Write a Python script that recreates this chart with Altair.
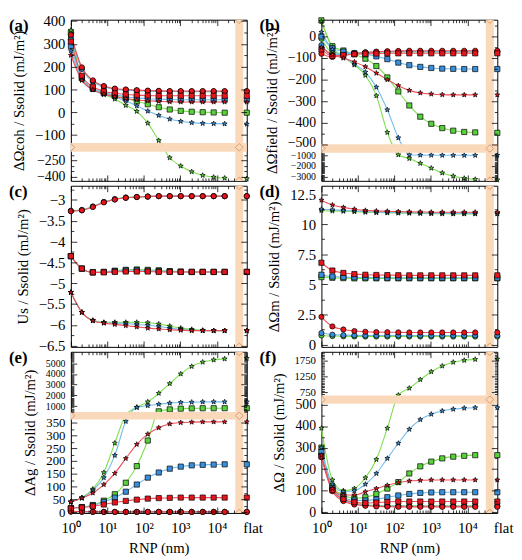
import math
import json
import altair as alt
import pandas as pd

# ---------------- data ----------------
X_NP = [1, 2, 4, 8, 16, 32, 64, 128, 256, 512, 1024, 2048, 4096, 8192, 16384]
X_FLAT = 66000
X_BAND = [32000, 53000]
X_LABEL_VALUES = [1, 10, 100, 1000, 10000, X_FLAT]
X_LABEL_TEXT = ["10⁰", "10¹", "10²", "10³", "10⁴", "flat"]
X_MAJOR = [1, 10, 100, 1000, 10000]
X_MINOR = [m * 10 ** k for k in range(4) for m in range(2, 10)] + [20000, 30000]

# (a) cohesion
A_CIRCLE_RED = [340, 197, 140, 115, 104, 100, 97, 95, 94, 93, 93, 93, 93, 93, 93, 93]
A_CIRCLE_BLUE = [320, 190, 135, 112, 101, 97, 94, 93, 92, 91, 91, 91, 91, 91, 91, 91]
A_CIRCLE_GREEN = [330, 192, 137, 113, 102, 98, 95, 93, 92, 91, 90, 90, 90, 90, 90, 90]
A_SQUARE_RED = [310, 160, 112, 92, 83, 78, 75, 73, 72, 72, 72, 72, 72, 72, 72, 72]
A_SQUARE_BLUE = [290, 150, 105, 86, 76, 68, 63, 59, 57, 56, 55, 55, 55, 55, 55, 55]
A_SQUARE_GREEN = [350, 150, 103, 84, 72, 60, 48, 35, 22, 12, 6, 2, 0, -1, -2, -2]
A_STAR_RED = [250, 140, 98, 80, 68, 60, 54, 50, 48, 46, 45, 45, 45, 45, 45, 45]
A_STAR_BLUE = [270, 142, 100, 80, 66, 50, 28, 5, -14, -30, -40, -46, -49, -50, -51, -52]
A_STAR_GREEN = [360, 145, 100, 78, 58, 30, 4, -48, -124, -225, -300, -352, -385, -402, -410, -415]

# (b) field
B_CIRCLE_RED = [-80, -95, -88, -80, -74, -70, -68, -67, -66, -66, -66, -66, -66, -66, -66, -66]
B_CIRCLE_BLUE = [-40, -85, -82, -78, -74, -72, -71, -70, -70, -70, -70, -70, -70, -70, -70, -70]
B_CIRCLE_GREEN = [-10, -75, -78, -76, -74, -73, -72, -72, -72, -72, -72, -72, -72, -72, -72, -72]
B_SQUARE_RED = [-60, -90, -86, -82, -80, -79, -78, -78, -78, -78, -78, -78, -78, -78, -78, -78]
B_SQUARE_BLUE = [0, -55, -70, -78, -83, -92, -105, -121, -133, -141, -146, -149, -150, -151, -151, -151]
B_SQUARE_GREEN = [75, -45, -65, -82, -103, -137, -190, -255, -320, -372, -405, -425, -437, -443, -445, -447]
B_STAR_RED = [-50, -85, -100, -118, -140, -170, -200, -228, -250, -262, -267, -270, -271, -271, -271, -271]
B_STAR_BLUE = [20, -60, -95, -128, -165, -235, -340, -470, -950, -980, -990, -995, -998, -1000, -1000, -1000]
B_STAR_GREEN = [70, -50, -95, -132, -180, -275, -445, -950, -1300, -1750, -2200, -2650, -2950, -3150, -3250, -3300]

# (c) solid energy
C_CIRCLE_RED = [-3.27, -3.25, -3.17, -3.06, -2.99, -2.95, -2.93, -2.92, -2.91, -2.91, -2.91, -2.91, -2.91, -2.91, -2.91, -2.91]
C_CIRCLE_BLUE = [-3.27, -3.25, -3.16, -3.05, -2.99, -2.95, -2.93, -2.92, -2.91, -2.91, -2.91, -2.91, -2.91, -2.91, -2.91, -2.91]
C_CIRCLE_GREEN = [-3.26, -3.24, -3.16, -3.05, -2.98, -2.94, -2.93, -2.92, -2.91, -2.91, -2.91, -2.91, -2.91, -2.91, -2.91, -2.91]
C_SQUARE_RED = [-4.35, -4.65, -4.74, -4.74, -4.73, -4.72, -4.72, -4.72, -4.73, -4.73, -4.73, -4.73, -4.73, -4.73, -4.73, -4.73]
C_SQUARE_BLUE = [-4.35, -4.65, -4.74, -4.73, -4.71, -4.69, -4.69, -4.70, -4.71, -4.72, -4.73, -4.73, -4.73, -4.73, -4.73, -4.73]
C_SQUARE_GREEN = [-4.35, -4.65, -4.74, -4.73, -4.70, -4.68, -4.67, -4.68, -4.69, -4.71, -4.72, -4.73, -4.73, -4.73, -4.73, -4.73]
C_STAR_RED = [-5.22, -5.70, -5.90, -5.96, -5.99, -6.02, -6.05, -6.08, -6.10, -6.12, -6.13, -6.14, -6.14, -6.14, -6.14, -6.14]
C_STAR_BLUE = [-5.22, -5.70, -5.90, -5.95, -5.96, -5.97, -5.99, -6.01, -6.04, -6.08, -6.11, -6.13, -6.14, -6.14, -6.14, -6.14]
C_STAR_GREEN = [-5.22, -5.70, -5.89, -5.94, -5.94, -5.94, -5.94, -5.95, -5.98, -6.03, -6.08, -6.11, -6.13, -6.14, -6.14, -6.14]

# (d) medium
D_CIRCLE_RED = [2.3, 1.5, 1.25, 1.12, 1.06, 1.03, 1.02, 1.01, 1.0, 1.0, 1.0, 1.0, 1.0, 1.0, 1.0, 1.0]
D_CIRCLE_BLUE = [0.95, 0.82, 0.78, 0.76, 0.75, 0.75, 0.75, 0.75, 0.75, 0.75, 0.75, 0.75, 0.75, 0.75, 0.75, 0.75]
D_CIRCLE_GREEN = [0.75, 0.70, 0.68, 0.67, 0.66, 0.66, 0.66, 0.66, 0.66, 0.66, 0.66, 0.66, 0.66, 0.66, 0.66, 0.66]
D_SQUARE_RED = [6.8, 6.15, 5.95, 5.85, 5.8, 5.78, 5.77, 5.76, 5.75, 5.75, 5.75, 5.75, 5.75, 5.75, 5.75, 5.75]
D_SQUARE_BLUE = [5.8, 5.65, 5.6, 5.58, 5.57, 5.56, 5.55, 5.55, 5.55, 5.55, 5.55, 5.55, 5.55, 5.55, 5.55, 5.55]
D_SQUARE_GREEN = [5.6, 5.55, 5.52, 5.5, 5.5, 5.5, 5.5, 5.5, 5.5, 5.5, 5.5, 5.5, 5.5, 5.5, 5.5, 5.5]
D_STAR_RED = [12.0, 11.6, 11.4, 11.25, 11.15, 11.1, 11.08, 11.05, 11.03, 11.02, 11.0, 11.0, 11.0, 11.0, 11.0, 11.0]
D_STAR_BLUE = [11.25, 11.2, 11.15, 11.1, 11.05, 11.0, 10.98, 10.96, 10.95, 10.93, 10.92, 10.91, 10.9, 10.9, 10.9, 10.9]
D_STAR_GREEN = [11.15, 11.1, 11.08, 11.05, 11.0, 10.97, 10.95, 10.93, 10.92, 10.9, 10.88, 10.87, 10.86, 10.86, 10.86, 10.86]

# (e) grafting
E_CIRCLE_RED = [3, 2, 1.5, 1, 1, 1, 1, 1, 1, 1, 1, 1, 1, 1, 1, 1]
E_CIRCLE_BLUE = [2.5, 1.8, 1.3, 1, 1, 1, 1, 1, 1, 1, 1, 1, 1, 1, 1, 1]
E_CIRCLE_GREEN = [2.2, 1.6, 1.2, 1, 1, 1, 1, 1, 1, 1, 1, 1, 1, 1, 1, 1]
E_SQUARE_RED = [15, 18, 23, 30, 38, 44, 49, 53, 55, 56, 57, 57, 57, 57, 57, 57]
E_SQUARE_BLUE = [15, 19, 26, 40, 57, 80, 108, 135, 155, 170, 178, 183, 185, 186, 187, 187]
E_SQUARE_GREEN = [15, 20, 28, 45, 70, 115, 180, 280, 520, 700, 770, 795, 805, 810, 812, 812]
E_STAR_RED = [40, 55, 75, 108, 152, 210, 265, 305, 330, 345, 350, 352, 353, 353, 353, 353]
E_STAR_BLUE = [40, 55, 85, 135, 222, 355, 880, 1050, 1180, 1280, 1340, 1370, 1390, 1400, 1400, 1400]
E_STAR_GREEN = [40, 57, 90, 155, 270, 420, 900, 1400, 2200, 3100, 4000, 4700, 5100, 5300, 5400, 5450]

# (f) total
F_CIRCLE_RED = [255, 98, 52, 36, 30, 27, 26, 25, 25, 25, 25, 25, 25, 25, 25, 25]
F_CIRCLE_BLUE = [265, 103, 57, 40, 33, 30, 29, 28, 28, 28, 28, 28, 28, 28, 28, 28]
F_CIRCLE_GREEN = [275, 108, 60, 42, 35, 32, 30, 30, 30, 30, 30, 30, 30, 30, 30, 30]
F_SQUARE_RED = [260, 103, 62, 47, 43, 45, 48, 50, 50, 50, 50, 50, 50, 50, 50, 50]
F_SQUARE_BLUE = [280, 112, 70, 55, 55, 60, 70, 78, 85, 90, 92, 93, 93, 93, 93, 93]
F_SQUARE_GREEN = [300, 120, 80, 65, 70, 85, 110, 140, 180, 213, 235, 250, 258, 262, 265, 265]
F_STAR_RED = [265, 110, 80, 80, 95, 110, 125, 138, 145, 148, 150, 150, 150, 150, 150, 150]
F_STAR_BLUE = [300, 130, 95, 100, 130, 180, 250, 320, 385, 430, 455, 470, 478, 483, 485, 485]
F_STAR_GREEN = [390, 150, 100, 110, 160, 245, 390, 660, 880, 1150, 1400, 1580, 1700, 1760, 1790, 1800]

# ---------------- style ----------------
FONT = "Liberation Serif, Times New Roman, serif"
W, H = 179, 164
REF_H = 166.0
BAND = "#FAD8BA"
BAND_EDGE = "#D99C6C"
COLOR_ORDER = ["green", "blue", "red"]
LINE_COLORS = ["#7EE04E", "#72BDEB", "#F04F5A"]
FILL_COLORS = ["#58D23A", "#3A8FDC", "#E8141C"]
MARKERS = ["circle", "square", "star"]

pts = []
for i in range(10):
    r = 1.0 if i % 2 == 0 else 0.42
    a = math.radians(-90 + 36 * i)
    pts.append(f"{r * math.cos(a):.3f},{r * math.sin(a):.3f}")
STAR = "M" + "L".join(pts) + "Z"


def series_list(prefix):
    g = globals()
    out = []
    for c in COLOR_ORDER:
        for m in MARKERS:
            out.append((m, c, g[f"{prefix}_{m.upper()}_{c.upper()}"]))
    return out


def build_df(prefix):
    rows = []
    for m, c, vals in series_list(prefix):
        for i, v in enumerate(vals):
            flat = i == len(X_NP)
            rows.append(dict(x=X_FLAT if flat else X_NP[i], v=v, marker=m, color=c,
                             sid=f"{m}-{c}", flat=flat, z=COLOR_ORDER.index(c)))
    return pd.DataFrame(rows)


def tick_size(major, big=6, small=3):
    return {"condition": {"test": f"indexof({json.dumps(major)}, datum.value) >= 0", "value": big},
            "value": small}


def inner_axis(orient, offset, values, major):
    return alt.Axis(orient=orient, offset=offset, values=values, labels=False, domain=False,
                    grid=False, title=None, ticks=True, tickColor="black", tickWidth=0.8,
                    tickSize=tick_size(major), zindex=1)


def panel(letter, prefix, ydom, yref, major, minor, labels, small_test, small_size, big_size,
          title, hband, bottom, shift_test="false", shift=0):
    df = build_df(prefix)
    yr = [r * H / REF_H for r in yref]
    ys = alt.Scale(domain=ydom, range=yr, nice=False, zero=False)
    xs = alt.Scale(type="log", domain=[1, X_FLAT], nice=False)
    yticks = sorted(set(major + minor))
    xticks = sorted(set(X_MAJOR + X_MINOR))

    ylab = alt.Axis(orient="left", values=labels, labelExpr="format(datum.value, '~g')",
                    ticks=False, domain=False,
                    grid=False, labelFont=FONT, labelColor="black", labelPadding=6,
                    labelOverlap=False,
                    labelOffset={"condition": {"test": shift_test, "value": shift}, "value": 0},
                    labelFontSize={"condition": {"test": small_test, "value": small_size}, "value": big_size},
                    title=title, titleFont=FONT, titleFontSize=15, titleFontWeight="normal",
                    titleColor="black", titlePadding=8)
    if bottom:
        expr = " : ".join(f"datum.value == {v} ? '{t}'" for v, t in zip(X_LABEL_VALUES, X_LABEL_TEXT)) + " : ''"
        xlab = alt.Axis(orient="bottom", values=X_LABEL_VALUES, labelExpr=expr, ticks=False,
                        domain=False, grid=False, labelFlush=False, labelOverlap=False,
                        labelFont=FONT, labelFontSize=15, labelColor="black", labelPadding=8,
                        labelOffset={"condition": {"test": f"datum.value >= {X_FLAT}", "value": 6}, "value": 0},
                        title="RNP (nm)", titleFont=FONT, titleFontSize=15,
                        titleFontWeight="normal", titleColor="black", titlePadding=5)
    else:
        xlab = None

    stroke = alt.Stroke("color:N", scale=alt.Scale(domain=COLOR_ORDER, range=LINE_COLORS), legend=None)
    fill = alt.Fill("color:N", scale=alt.Scale(domain=COLOR_ORDER, range=FILL_COLORS), legend=None)
    shape = alt.Shape("marker:N", scale=alt.Scale(domain=MARKERS, range=["circle", "square", STAR]), legend=None)
    size = alt.Size("marker:N", scale=alt.Scale(domain=MARKERS, range=[28, 28, 72]), legend=None)

    base = alt.Chart(df)
    lines = base.transform_filter("!datum.flat").mark_line(strokeWidth=1.1, interpolate="monotone").encode(
        x=alt.X("x:Q", scale=xs, axis=xlab),
        y=alt.Y("v:Q", scale=ys, axis=ylab),
        stroke=stroke, detail="sid:N", order="x:Q")
    points = base.mark_point(filled=True, stroke="black", strokeWidth=0.7, opacity=1).encode(
        x=alt.X("x:Q", scale=xs, axis=inner_axis("top", -H, xticks, X_MAJOR)),
        y=alt.Y("v:Q", scale=ys, axis=inner_axis("right", -W, yticks, major)),
        fill=fill, shape=shape, size=size, order=alt.Order("z:Q"))

    vb = pd.DataFrame({"x1": [X_BAND[0]], "x2": [X_BAND[1]], "y1": [ydom[0]], "y2": [ydom[-1]]})
    vband = alt.Chart(vb).mark_rect(color=BAND).encode(
        x=alt.X("x1:Q", scale=xs, axis=inner_axis("bottom", -H, xticks, X_MAJOR)), x2="x2:Q",
        y=alt.Y("y1:Q", scale=ys, axis=inner_axis("left", -W, yticks, major)), y2="y2:Q")

    xc = math.sqrt(X_BAND[0] * X_BAND[1])
    dx = [xc, xc]
    dy = [ydom[0], ydom[-1]]
    layers = [lines, points, vband]
    if hband:
        hb = pd.DataFrame({"x1": [1], "x2": [X_FLAT], "y1": [hband[0]], "y2": [hband[1]]})
        layers.append(alt.Chart(hb).mark_rect(color=BAND).encode(
            x=alt.X("x1:Q", scale=xs, axis=None), x2="x2:Q",
            y=alt.Y("y1:Q", scale=ys, axis=None), y2="y2:Q"))
        yc = (hband[0] + hband[1]) / 2
        dx += [1, xc]
        dy += [yc, yc]
    dd = pd.DataFrame({"x": dx, "y": dy})
    layers.append(alt.Chart(dd).mark_point(shape="diamond", size=60, filled=False, clip=True,
                                           stroke=BAND_EDGE, strokeWidth=1, opacity=1).encode(
        x=alt.X("x:Q", scale=xs, axis=None), y=alt.Y("y:Q", scale=ys, axis=None)))
    lab = alt.Chart(pd.DataFrame({"t": [f"({letter})"]})).mark_text(
        align="left", baseline="middle", font=FONT, fontSize=17, fontWeight="bold", color="black").encode(
        text="t:N", x=alt.value(-63), y=alt.value(6))
    layers.append(lab)
    return alt.layer(*layers).resolve_axis(x="independent", y="independent").properties(width=W, height=H)


def rng(a, b, s):
    out = []
    n = int(round((b - a) / s))
    for i in range(n + 1):
        out.append(round(a + i * s, 4))
    return out


pa = panel("a", "A", [-435, -170, -135, 406], [166, 136, 127, 0],
           [-400, -250, -100, 0, 100, 200, 300, 400],
           rng(-350, -200, 50) + rng(-50, 350, 100),
           [-400, -250, -100, 0, 100, 200, 300, 400], "datum.value < -200", 14, 15,
           "ΔΩcoh / Ssolid (mJ/m²)", [-170, -135], False)
pb = panel("b", "B", [-3390, -755, -500, 78], [166, 137, 128.3, 0],
           [-3000, -2000, -1000, -500, -400, -300, -200, -100, 0],
           rng(-3300, -800, 100) + rng(-450, 50, 100),
           [-3000, -2000, -1000, -500, -400, -300, -200, -100, 0], "datum.value < -700", 10, 14,
           "ΔΩfield / Ssolid (mJ/m²)", [-755, -500], False, shift_test="datum.value == -500", shift=-2)
pc = panel("c", "C", [-6.53, -2.66], [166, 0],
           rng(-6.5, -3.0, 0.5), rng(-6.25, -2.75, 0.5),
           rng(-6.5, -3.0, 0.5), "datum.value > 100", 15, 15,
           "Us / Ssolid (mJ/m²)", None, False)
pd_ = panel("d", "D", [-0.2, 13.2], [166, 0],
            rng(0, 12.5, 2.5), rng(1.25, 11.25, 2.5),
            rng(0, 12.5, 2.5), "datum.value > 100", 15, 15,
            "ΔΩm / Ssolid (mJ/m²)", None, False)
pe = panel("e", "E", [-3, 362, 458, 6058], [166, 69.8, 62, 0],
           rng(0, 350, 50) + [1000, 2000, 3000, 4000, 5000],
           rng(25, 325, 50) + rng(500, 6000, 100),
           rng(0, 350, 50) + [1000, 2000, 3000, 4000, 5000], "datum.value > 500", 10, 13,
           "ΔAg / Ssolid (mJ/m²)", [362, 458], True)
pf = panel("f", "F", [-3, 503, 649, 2029], [166, 53.6, 45, 0],
           rng(0, 500, 100) + [750, 1250, 1750],
           rng(50, 450, 100) + rng(700, 2000, 50),
           rng(0, 500, 100) + [750, 1250, 1750], "datum.value > 600", 11, 14,
           "ΔΩ / Ssolid (mJ/m²)", [503, 649], True)

chart = alt.concat(pa, pb, pc, pd_, pe, pf, columns=2, spacing={"row": 5, "column": 76},
                   bounds="flush").properties(
    padding={"left": 0, "top": 0, "right": 0, "bottom": 0}, background="white"
).configure_view(stroke="black", strokeWidth=1)

chart.save("out.html", embed_options={"renderer": "svg", "actions": False})
